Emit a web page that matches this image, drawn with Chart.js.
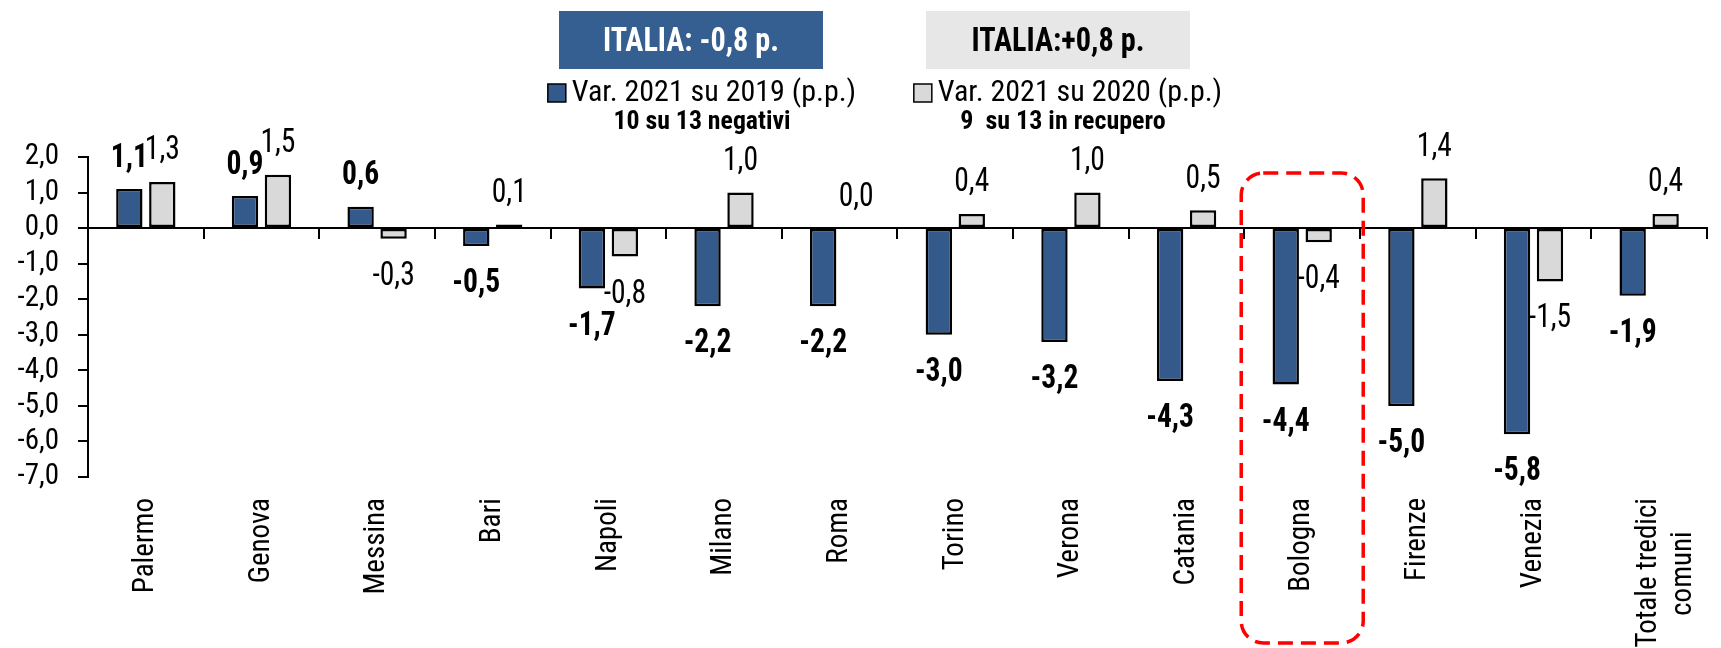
<!DOCTYPE html>
<html>
<head>
<meta charset="utf-8">
<script src="https://cdn.jsdelivr.net/npm/chart.js@4.4.1/dist/chart.umd.min.js"></script>
<style>
  html, body { margin: 0; padding: 0; background: #fff; overflow: hidden; }
  #wrap { width: 1740px; height: 648px; }
</style>
</head>
<body>
<div id="wrap"><canvas id="chart" width="1740" height="648"></canvas></div>
<script>
// categories (last label split on two lines, second line padded so it sits centred)
const cities = ['Palermo', 'Genova', 'Messina', 'Bari', 'Napoli', 'Milano', 'Roma', 'Torino',
  'Verona', 'Catania', 'Bologna', 'Firenze', 'Venezia', ['Totale tredici', 'comuni     ']]

const var2019 = [1.1, 0.9, 0.6, -0.5, -1.7, -2.2, -2.2, -3.0, -3.2, -4.3, -4.4, -5.0, -5.8, -1.9]
const var2020 = [1.3, 1.5, -0.3, 0.1, -0.8, 1.0, 0.0, 0.4, 1.0, 0.5, -0.4, 1.4, -1.5, 0.4]

const seriesNames = ['Var. 2021 su 2019 (p.p.)', 'Var. 2021 su 2020 (p.p.)']
const seriesNotes = ['10 su 13 negativi', '9  su 13 in recupero']
const italiaLabels = ['ITALIA: -0,8 p.', 'ITALIA:+0,8 p.']
const highlightCity = 'Bologna'

const yMin = -7, yMax = 2

const FONT = "'Roboto Condensed', Roboto, sans-serif"
const BLUE = '#345a8c'
const GREY = '#d9d9d9'

let fmt = v => v.toFixed(1).replace('.', ',')

Chart.defaults.font.family = FONT
Chart.defaults.color = '#000'

// draw text squeezed horizontally (narrow look), optionally to a given width
function narrowText(ctx, text, x, y, font, sx, width) {
  ctx.save()
  ctx.font = font
  if (width) sx = Math.min(1, width / ctx.measureText(text).width)
  ctx.translate(x, y)
  ctx.scale(sx, 1)
  ctx.fillText(text, 0, 0)
  ctx.restore()
}

// numbers at the end of each bar, first series in bold
const valueLabels = {
  id: 'valueLabels',
  afterDatasetsDraw(chart) {
    const ctx = chart.ctx
    ctx.save()
    ctx.fillStyle = '#000'
    ctx.textAlign = 'center'
    ctx.textBaseline = 'alphabetic'
    chart.data.datasets.forEach((ds, i) => {
      chart.getDatasetMeta(i).data.forEach((bar, j) => {
        const v = ds.data[j]
        const mid = v < 0 ? bar.y + 34 : bar.y - 34.5
        narrowText(ctx, fmt(v), bar.x, mid + 12, (i === 0 ? 'bold ' : '') + '34px ' + FONT, 0.87)
      })
    })
    ctx.restore()
  }
}

// the two ITALIA boxes, legend squares and notes above the plot
const header = {
  id: 'header',
  afterDraw(chart) {
    const ctx = chart.ctx
    const boxes = [
      { x: 559, fill: '#365f91', color: '#fff', textW: 176, legendX: 702, noteX: 702, noteW: 177 },
      { x: 926, fill: '#e7e7e7', color: '#000', textW: 173, legendX: 1068, noteX: 1063, noteW: 220 }
    ]
    ctx.save()
    ctx.textBaseline = 'middle'
    boxes.forEach((b, i) => {
      ctx.fillStyle = b.fill
      ctx.fillRect(b.x, 11, 264, 58)
      ctx.fillStyle = b.color
      ctx.textAlign = 'center'
      narrowText(ctx, italiaLabels[i], b.x + 132, 42, 'bold 34px ' + FONT, 1, b.textW)

      const ds = chart.data.datasets[i]
      ctx.font = '30px ' + FONT
      const tw = ctx.measureText(ds.label).width
      const left = b.legendX - (18 + 6 + tw) / 2
      ctx.fillStyle = ds.backgroundColor
      ctx.fillRect(left, 84, 18, 18)
      ctx.strokeStyle = '#000'
      ctx.lineWidth = 1.5
      ctx.strokeRect(left, 84, 18, 18)
      ctx.fillStyle = '#000'
      ctx.textAlign = 'left'
      ctx.fillText(ds.label, left + 24, 93)

      ctx.textAlign = 'center'
      narrowText(ctx, seriesNotes[i], b.noteX, 122, 'bold 26px ' + FONT, 1, b.noteW)
    })

    // red dashed frame round the highlighted city
    const cx = chart.scales.x.getPixelForValue(cities.indexOf(highlightCity))
    ctx.strokeStyle = '#ff0000'
    ctx.lineWidth = 3.5
    ctx.setLineDash([15, 8])
    ctx.beginPath()
    ctx.roundRect(cx - 61, 173, 122, 470, 22)
    ctx.stroke()
    ctx.restore()
  }
}

new Chart(document.getElementById('chart'), {
  type: 'bar',
  data: {
    labels: cities,
    datasets: [
      { label: seriesNames[0], data: var2019, backgroundColor: BLUE },
      { label: seriesNames[1], data: var2020, backgroundColor: GREY }
    ]
  },
  options: {
    responsive: false,
    animation: false,
    events: [],
    layout: { padding: { top: 157, right: 7, left: 0, bottom: 0 } },
    datasets: {
      bar: {
        categoryPercentage: 0.57,
        barPercentage: 0.8,
        borderColor: '#000',
        borderWidth: 2.5,
        borderSkipped: false
      }
    },
    plugins: {
      legend: { display: false },
      tooltip: { enabled: false }
    },
    scales: {
      x: {
        position: 'bottom',
        grid: { display: false, drawTicks: false },
        border: { display: false },
        ticks: { autoSkip: false, minRotation: 90, maxRotation: 90, padding: 21, font: { size: 29 } },
        afterFit: s => { s.height = 171 }
      },
      // second category axis sitting on zero: draws the zero line and the small ticks between cities
      x2: {
        type: 'category',
        position: { y: 0 },
        offset: true,
        grid: { offset: true, drawOnChartArea: false, drawTicks: true, tickLength: 10, color: '#000', lineWidth: 2 },
        border: { display: true, color: '#000', width: 2 },
        ticks: { display: false }
      },
      y: {
        min: yMin,
        max: yMax,
        grid: { drawOnChartArea: false, drawTicks: true, tickLength: 10, color: '#000', lineWidth: 2 },
        border: { color: '#000', width: 2 },
        ticks: { stepSize: 1, autoSkip: false, padding: 19, font: { size: 29 }, callback: v => fmt(v) },
        afterFit: s => { s.width = 88 }
      }
    }
  },
  plugins: [valueLabels, header]
})
</script>
</body>
</html>
